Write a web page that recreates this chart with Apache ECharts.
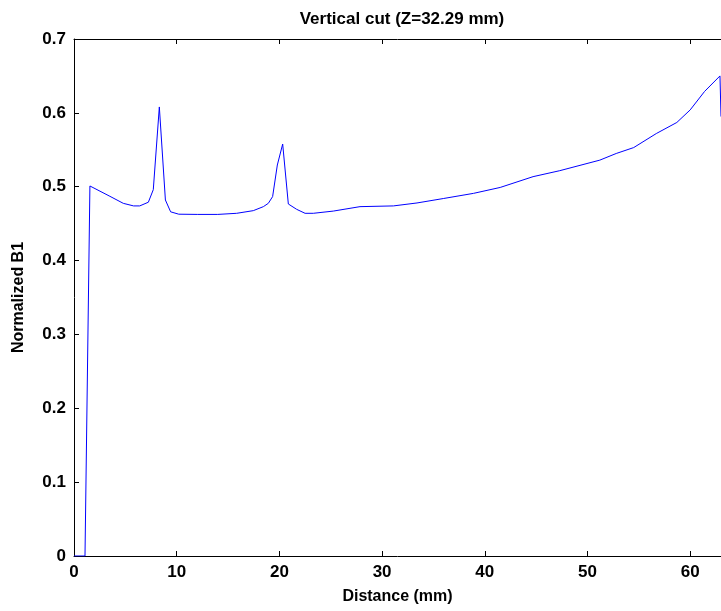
<!DOCTYPE html>
<html>
<head>
<meta charset="UTF-8"/>
<title>Vertical cut</title>
<script src="https://cdn.jsdelivr.net/npm/echarts@6/dist/echarts.min.js"></script>
<style>
body{margin:0;background:#fff;}
#main{width:721px;height:611px;}
</style>
</head>
<body>
<div id="main"></div>
<script type="text/javascript">
// values
var distance = [0, 1.07, 1.55, 3.5, 4.8, 5.8, 6.4, 7.24, 7.72, 8.31, 8.9, 9.41, 10.2, 12, 14, 15.84, 17.46, 18.44, 18.92, 19.34, 19.8, 20.32, 20.87, 21.68, 22.5, 23.3, 25.25, 27.85, 31.1, 33.4, 35.96, 38.9, 41.5, 44.7, 47.3, 51.2, 52.8, 54.5, 56.7, 58.7, 60.0, 61.4, 62.9, 63.0];
var b1 = [0, 0, 0.501, 0.487, 0.4775, 0.474, 0.474, 0.479, 0.496, 0.608, 0.482, 0.466, 0.4628, 0.4625, 0.4625, 0.464, 0.4676, 0.473, 0.4775, 0.4866, 0.5294, 0.5578, 0.4766, 0.4694, 0.464, 0.464, 0.467, 0.473, 0.474, 0.478, 0.484, 0.491, 0.499, 0.5136, 0.5217, 0.536, 0.545, 0.553, 0.572, 0.587, 0.604, 0.629, 0.650, 0.595];

var pts = [];
for (var i = 0; i < distance.length; i++) {
	pts.push([distance[i], b1[i]]);
}

var fnt = 'Liberation Sans, Arial, sans-serif';
var tick = {show: true, inside: true, length: 5, lineStyle: {color: '#000'}};
var line = {show: true, onZero: false, lineStyle: {color: '#000', width: 1}};
var myChart = echarts.init(document.getElementById('main'));
var option = {
	animation: false,
	title: {
		text: 'Vertical cut (Z=32.29 mm)',
		left: 397,
		textAlign: 'center',
		top: 6,
		textStyle: {fontFamily: fnt, fontSize: 17, fontWeight: 'bold', color: '#000'}
	},
	grid: {left: 74, right: 0, top: 39, bottom: 55, show: false},
	xAxis: [{
		type: 'value',
		min: 0, max: 63, interval: 10,
		name: 'Distance (mm)',
		nameLocation: 'middle',
		nameGap: 33,
		nameTextStyle: {fontFamily: fnt, fontSize: 16, fontWeight: 'bold', color: '#000'},
		axisLine: line,
		axisTick: tick,
		axisLabel: {fontFamily: fnt, fontSize: 17, fontWeight: 'bold', color: '#000', margin: 8, showMaxLabel: false},
		splitLine: {show: false}
	}, {
		type: 'value',
		position: 'top',
		min: 0, max: 63, interval: 10,
		axisLine: line,
		axisTick: tick,
		axisLabel: {show: false},
		splitLine: {show: false}
	}],
	yAxis: {
		type: 'value',
		min: 0, max: 0.7, interval: 0.1,
		name: 'Normalized B1',
		nameLocation: 'middle',
		nameGap: 47,
		nameTextStyle: {fontFamily: fnt, fontSize: 16, fontWeight: 'bold', color: '#000'},
		axisLine: line,
		axisTick: tick,
		axisLabel: {fontFamily: fnt, fontSize: 17, fontWeight: 'bold', color: '#000', margin: 8,
			formatter: function(v){ return v === 0 ? '0' : v.toFixed(1); }},
		splitLine: {show: false}
	},
	series: [{
		type: 'line',
		data: pts,
		showSymbol: false,
		clip: true,
		lineStyle: {color: '#0000ff', width: 1},
		itemStyle: {color: '#0000ff'}
	}]
};
myChart.setOption(option);
</script>
</body>
</html>
